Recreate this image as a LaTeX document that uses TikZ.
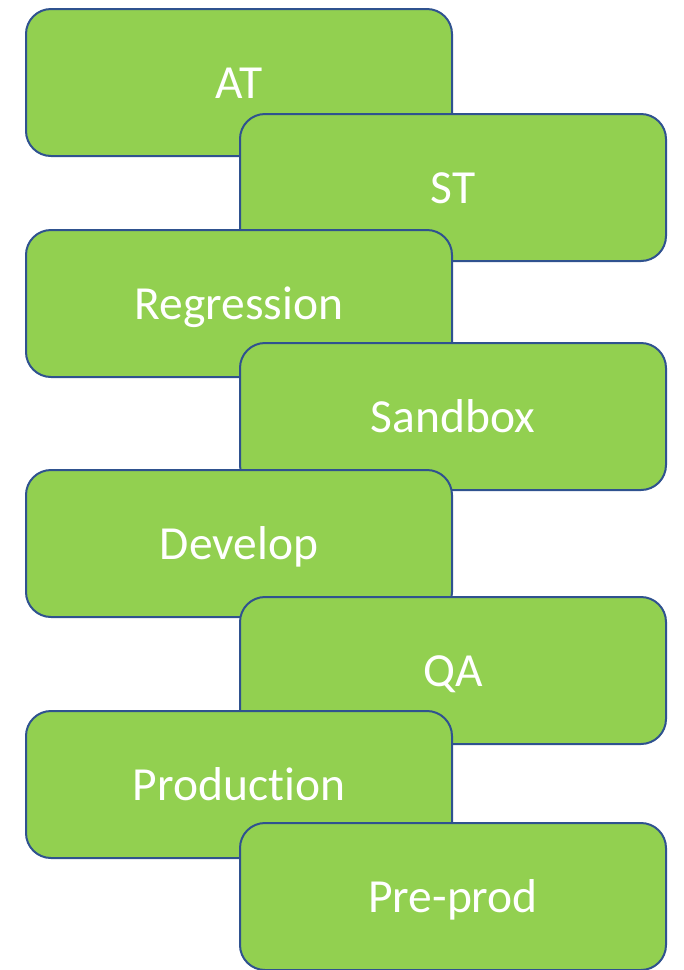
\documentclass[tikz,border=0pt]{standalone}
\usepackage{fontspec}
\setmainfont[Ligatures=NoCommon]{Carlito}
\definecolor{boxgreen}{HTML}{92D050}
\definecolor{boxedge}{HTML}{2F528F}
\begin{document}
\begin{tikzpicture}[x=1pt,y=-1pt,
  envbox/.style={draw=boxedge, line width=2pt, fill=boxgreen, rounded corners=25pt,
    minimum width=426pt, minimum height=147pt, inner sep=0pt, anchor=north west,
    text height=41pt, text depth=9pt,
    text=white, font=\fontsize{47.5}{52}\selectfont}]
\useasboundingbox (0,0) rectangle (684,970);
% alternating stack of environment boxes, each drawn over the previous one
\node[envbox] (at)    at (25,8)    {AT};
\node[envbox] (st)    at (239,113) {ST};
\node[envbox] (reg)   at (25,229)  {Regression};
\node[envbox] (sand)  at (239,342) {Sandbox};
\node[envbox] (dev)   at (25,469)  {Develop};
\node[envbox] (qa)    at (239,596) {QA};
\node[envbox] (prod)  at (25,710)  {Production};
\node[envbox] (pre)   at (239,822) {Pre-prod};
\end{tikzpicture}
\end{document}
